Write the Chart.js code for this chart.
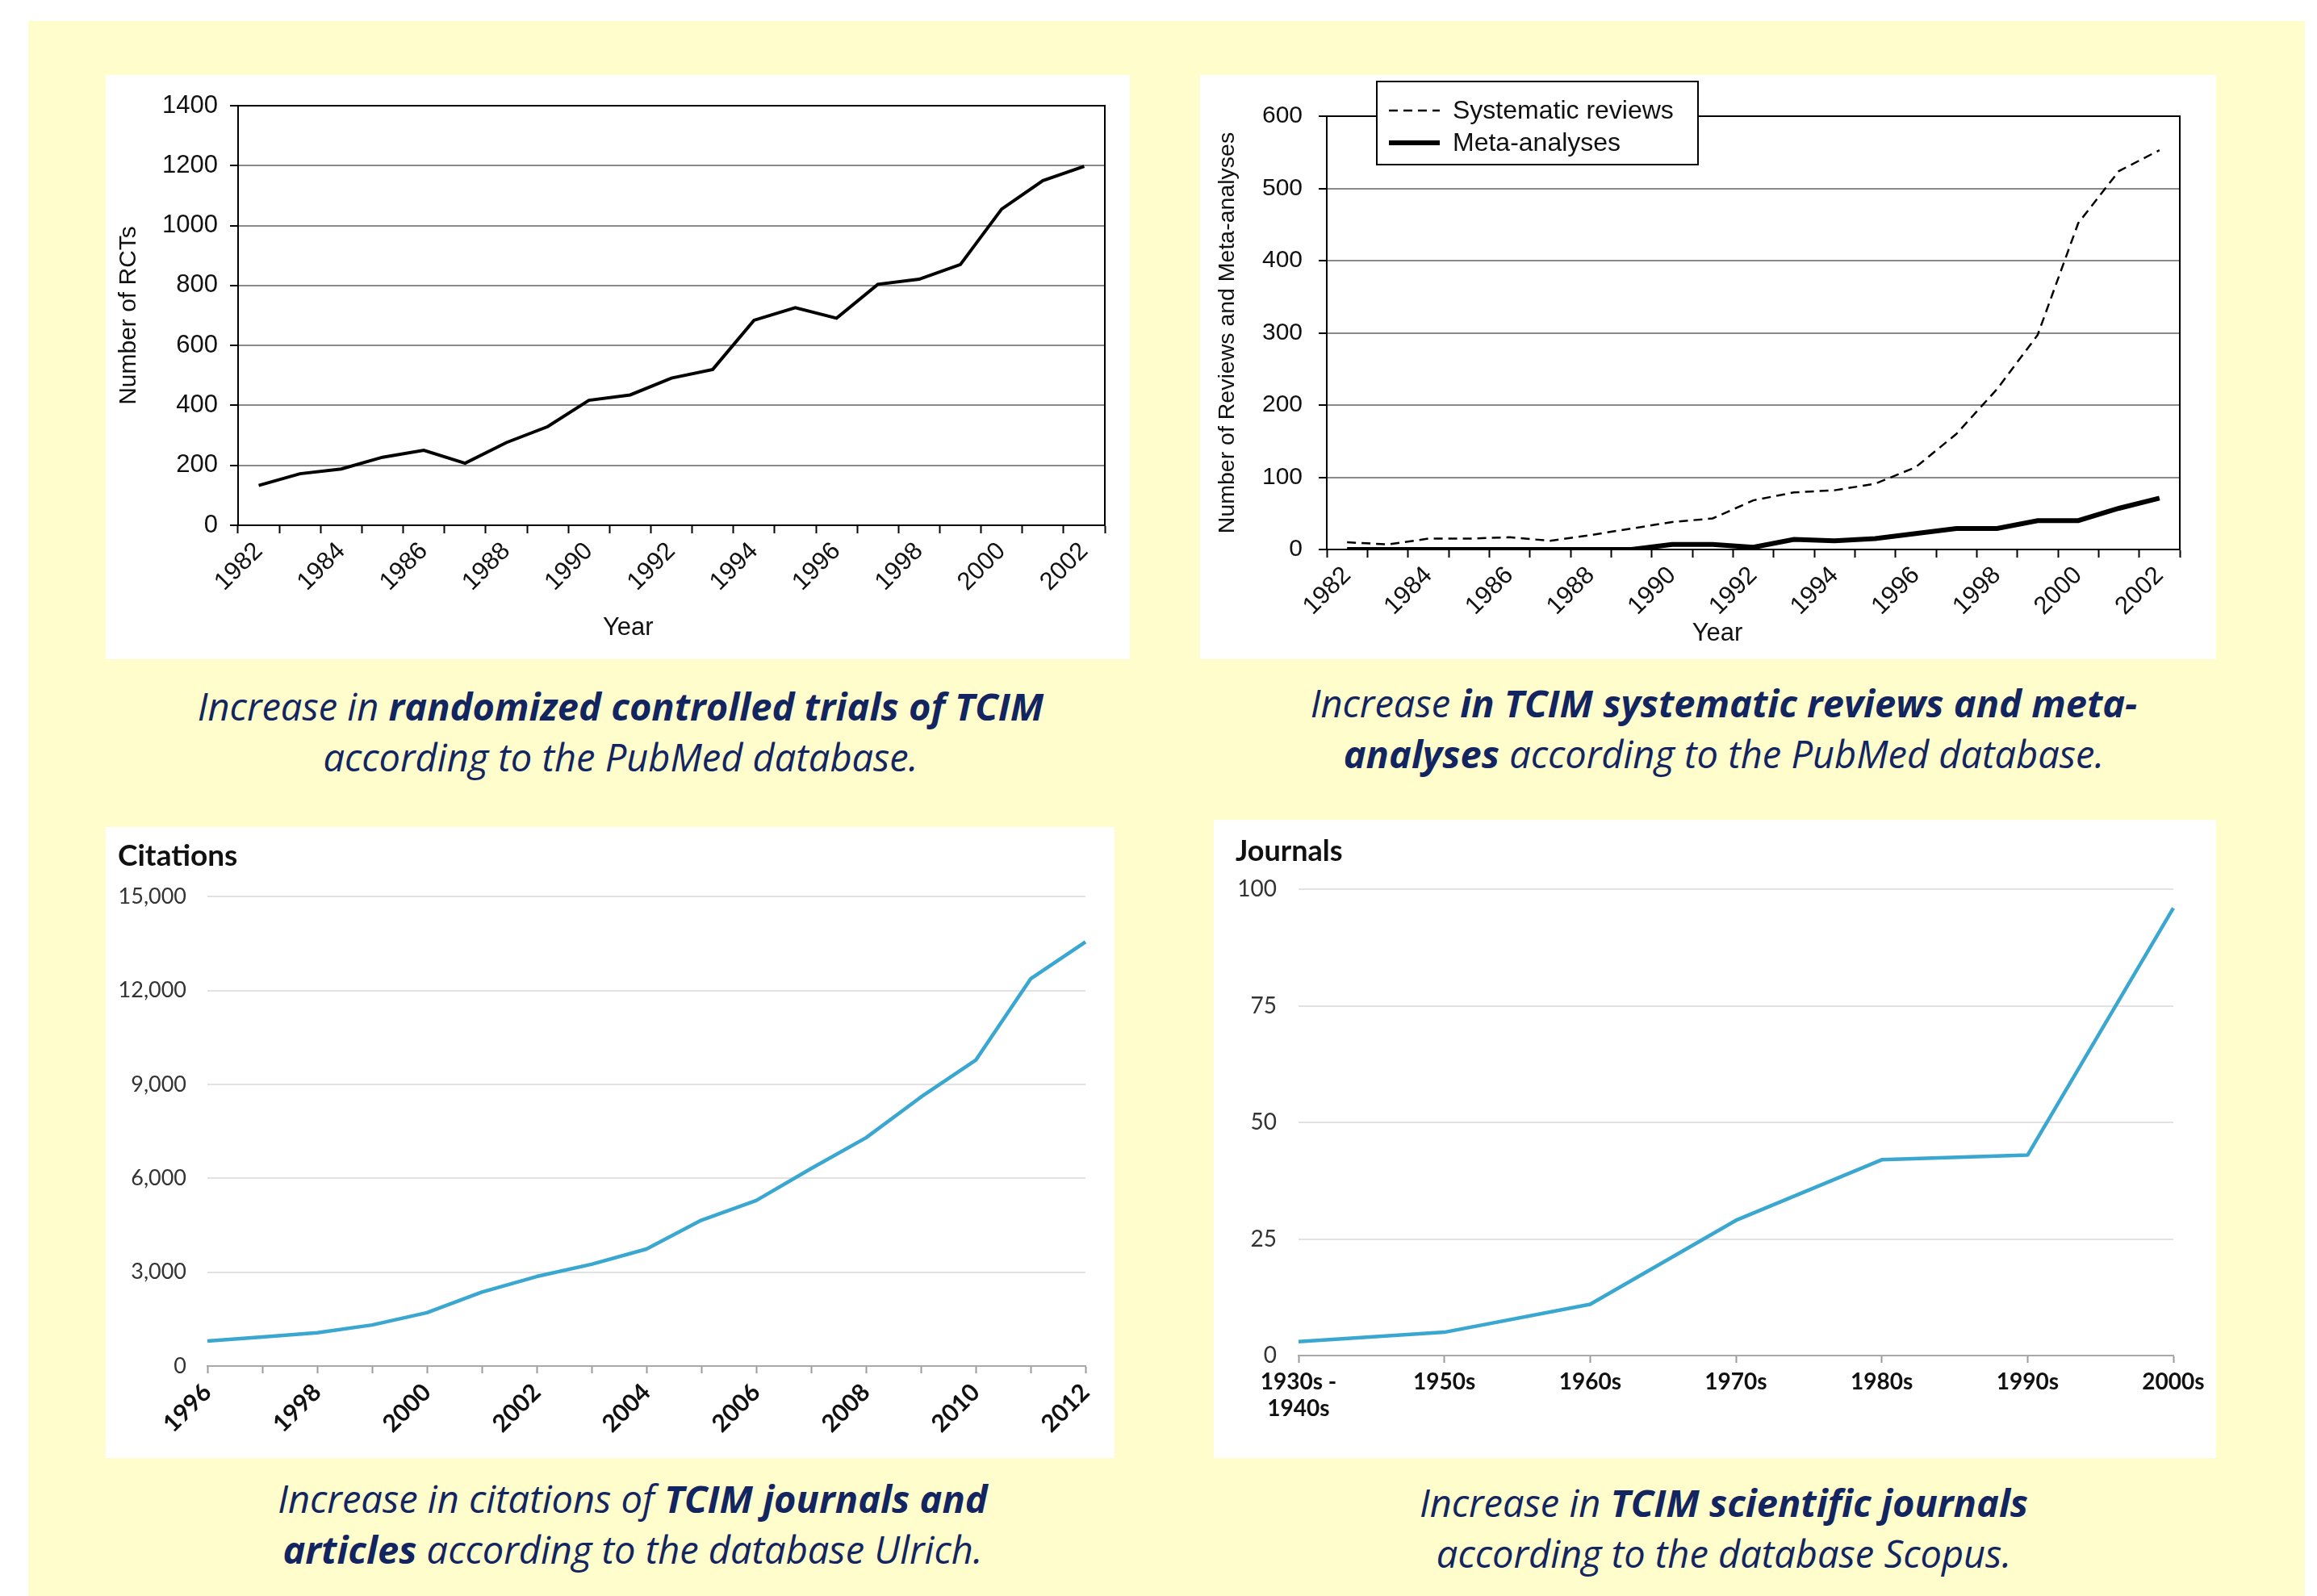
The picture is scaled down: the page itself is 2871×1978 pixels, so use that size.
<!DOCTYPE html>
<html>
<head>
<meta charset="utf-8">
<script src="https://cdn.jsdelivr.net/npm/chart.js@4.4.1/dist/chart.umd.min.js"></script>
<style>
  html, body { margin: 0; padding: 0; background: #fff; }
  body { width: 2871px; height: 1978px; position: relative; overflow: hidden; }
  .bg { position: absolute; left: 35px; top: 26px; width: 2821px; height: 1952px; background: #fffdcc; }
  .panel { position: absolute; background: #fff; }
  .panel canvas { display: block; }
  .caption {
    position: absolute; width: 1400px; text-align: center; white-space: nowrap;
    font-family: "Open Sans", sans-serif; font-style: italic; font-size: 47px;
    line-height: 63px; color: #122560;
  }
  .caption b { font-weight: 700; }
</style>
</head>
<body>
<div class="bg"></div>

<div class="panel" style="left:131px;top:93px;width:1269px;height:724px">
  <canvas id="rctChart" width="1269" height="724"></canvas>
</div>
<div class="panel" style="left:1487px;top:93px;width:1259px;height:724px">
  <canvas id="reviewChart" width="1259" height="724"></canvas>
</div>
<div class="panel" style="left:131px;top:1025px;width:1250px;height:782px">
  <canvas id="citationChart" width="1250" height="782"></canvas>
</div>
<div class="panel" style="left:1504px;top:1016px;width:1242px;height:791px">
  <canvas id="journalChart" width="1242" height="791"></canvas>
</div>

<div class="caption" style="left:69px;top:844px">Increase in <b>randomized controlled trials of TCIM</b><br>according to the PubMed database.</div>
<div class="caption" style="left:1436px;top:840px">Increase <b>in TCIM systematic reviews and meta-</b><br><b>analyses</b> according to the PubMed database.</div>
<div class="caption" style="left:84px;top:1826px">Increase in citations of <b>TCIM journals and</b><br><b>articles</b> according to the database Ulrich.</div>
<div class="caption" style="left:1436px;top:1831px">Increase in <b>TCIM scientific journals</b><br>according to the database Scopus.</div>

<script>
// --- data ---
const rctYears = ['1982','1983','1984','1985','1986','1987','1988','1989','1990','1991','1992',
                  '1993','1994','1995','1996','1997','1998','1999','2000','2001','2002'];
const rctCounts = [133, 172, 188, 227, 250, 207, 276, 329, 417, 435, 491,
                   520, 684, 726, 691, 804, 821, 870, 1055, 1150, 1198];
const rctTicks = [0, 200, 400, 600, 800, 1000, 1200, 1400];

const reviewYears = rctYears;
const systematicReviews = [10, 7, 15, 15, 17, 12, 20, 29, 38, 43, 68,
                           79, 82, 91, 114, 160, 222, 297, 452, 524, 553];
const metaAnalyses = [0, 0, 0, 0, 0, 0, 0, 0, 7, 7, 3,
                      14, 12, 15, 22, 29, 29, 40, 40, 57, 71];
const reviewTicks = [0, 100, 200, 300, 400, 500, 600];

const citationYears = ['1996','1997','1998','1999','2000','2001','2002','2003','2004',
                       '2005','2006','2007','2008','2009','2010','2011','2012'];
const citations = [800, 930, 1063, 1312, 1706, 2362, 2861, 3254, 3740,
                   4659, 5289, 6312, 7296, 8596, 9777, 12375, 13556];
const citationTicks = [0, 3000, 6000, 9000, 12000, 15000];

const decades = [['1930s -', '1940s'], '1950s', '1960s', '1970s', '1980s', '1990s', '2000s'];
const journals = [3, 5, 11, 29, 42, 43, 96];
const journalTicks = [0, 25, 50, 75, 100];

const helv = "'Liberation Sans', Arial, sans-serif";
const gill = "Lato, 'Open Sans', sans-serif";
const blue = '#3aa7d0';

function everyOther(v, i) {
    return i % 2 === 0 ? this.getLabelForValue(v) : '';
}

// top and right sides of the box round the old PubMed plots
const frame = {
    id: 'frame',
    afterDatasetsDraw(chart) {
        const {ctx, chartArea: a} = chart;
        ctx.save();
        ctx.strokeStyle = '#000';
        ctx.lineWidth = 2;
        ctx.beginPath();
        ctx.moveTo(a.left, a.top);
        ctx.lineTo(a.right, a.top);
        ctx.lineTo(a.right, a.bottom);
        ctx.stroke();
        ctx.restore();
    }
};

// "Year" sits a bit left of the axis middle in the originals
const xTitle = {
    id: 'xTitle',
    afterDraw(chart, args, opts) {
        const {ctx, chartArea: a} = chart;
        ctx.save();
        ctx.font = opts.size + 'px ' + helv;
        ctx.fillStyle = '#111';
        ctx.textAlign = 'center';
        ctx.textBaseline = 'middle';
        ctx.fillText(opts.text, a.left + (a.right - a.left) * opts.at, opts.y);
        ctx.restore();
    }
};

// boxed legend in the upper left of the reviews chart
const boxLegend = {
    id: 'boxLegend',
    afterDraw(chart) {
        const ctx = chart.ctx;
        ctx.save();
        ctx.fillStyle = '#fff';
        ctx.fillRect(219, 8, 398, 103);
        ctx.strokeStyle = '#000';
        ctx.lineWidth = 2;
        ctx.strokeRect(219, 8, 398, 103);
        chart.data.datasets.forEach((ds, i) => {
            const y = 44 + i * 40;
            ctx.beginPath();
            ctx.setLineDash(ds.borderDash || []);
            ctx.lineWidth = ds.borderWidth;
            ctx.moveTo(234, y);
            ctx.lineTo(297, y);
            ctx.stroke();
            ctx.setLineDash([]);
            ctx.fillStyle = '#111';
            ctx.font = '32px ' + helv;
            ctx.textBaseline = 'middle';
            ctx.fillText(ds.label, 313, y + 1);
        });
        ctx.restore();
    }
};

new Chart(document.getElementById('rctChart'), {
    type: 'line',
    data: {
        labels: rctYears,
        datasets: [{
            data: rctCounts,
            borderColor: '#000',
            borderWidth: 4,
            pointRadius: 0,
            tension: 0
        }]
    },
    options: {
        responsive: false,
        animation: false,
        layout: { padding: { top: 38, right: 31, left: 0, bottom: 0 } },
        plugins: {
            legend: { display: false },
            tooltip: { enabled: false },
            xTitle: { text: 'Year', size: 31, at: 0.45, y: 685 }
        },
        scales: {
            x: {
                offset: true,
                grid: { offset: true, drawOnChartArea: false, tickLength: 10, tickWidth: 2, tickColor: '#000' },
                border: { color: '#000', width: 2 },
                ticks: { autoSkip: false, minRotation: 45, maxRotation: 45, padding: 4, color: '#111',
                         font: { family: helv, size: 31 }, callback: everyOther },
                afterFit(s) { s.height = 166; }
            },
            y: {
                min: 0, max: 1400,
                afterBuildTicks(s) { s.ticks = rctTicks.map(v => ({ value: v })); },
                grid: { color: '#8a8a8a', lineWidth: 2, tickLength: 10, tickWidth: 2, tickColor: '#000' },
                border: { color: '#000', width: 2 },
                ticks: { padding: 15, color: '#111', font: { family: helv, size: 31 }, callback: v => String(v) },
                title: { display: true, text: 'Number of RCTs', color: '#111', font: { family: helv, size: 30 },
                         padding: { top: 11, bottom: 0 } },
                afterFit(s) { s.width = 164; }
            }
        }
    },
    plugins: [frame, xTitle]
});

new Chart(document.getElementById('reviewChart'), {
    type: 'line',
    data: {
        labels: reviewYears,
        datasets: [{
            label: 'Systematic reviews',
            data: systematicReviews,
            borderColor: '#000',
            borderWidth: 2.5,
            borderDash: [11, 7],
            pointRadius: 0,
            tension: 0
        }, {
            label: 'Meta-analyses',
            data: metaAnalyses,
            borderColor: '#000',
            borderWidth: 6,
            pointRadius: 0,
            tension: 0
        }]
    },
    options: {
        responsive: false,
        animation: false,
        layout: { padding: { top: 51, right: 45, left: 0, bottom: 0 } },
        plugins: {
            legend: { display: false },
            tooltip: { enabled: false },
            xTitle: { text: 'Year', size: 31, at: 0.458, y: 692 }
        },
        scales: {
            x: {
                offset: true,
                grid: { offset: true, drawOnChartArea: false, tickLength: 10, tickWidth: 2, tickColor: '#000' },
                border: { color: '#000', width: 2 },
                ticks: { autoSkip: false, minRotation: 45, maxRotation: 45, padding: 4, color: '#111',
                         font: { family: helv, size: 31 }, callback: everyOther },
                afterFit(s) { s.height = 136; }
            },
            y: {
                min: 0, max: 600,
                afterBuildTicks(s) { s.ticks = reviewTicks.map(v => ({ value: v })); },
                grid: { color: '#8a8a8a', lineWidth: 2, tickLength: 10, tickWidth: 2, tickColor: '#000' },
                border: { color: '#000', width: 2 },
                ticks: { padding: 20, color: '#111', font: { family: helv, size: 30 } },
                title: { display: true, text: 'Number of Reviews and Meta-analyses', color: '#111',
                         font: { family: helv, size: 28.5 }, padding: { top: 17, bottom: 0 } },
                afterFit(s) { s.width = 157; }
            }
        }
    },
    plugins: [frame, boxLegend, xTitle]
});

new Chart(document.getElementById('citationChart'), {
    type: 'line',
    data: {
        labels: citationYears,
        datasets: [{
            data: citations,
            borderColor: blue,
            borderWidth: 4.5,
            pointRadius: 0,
            tension: 0,
            borderJoinStyle: 'round'
        }]
    },
    options: {
        responsive: false,
        animation: false,
        locale: 'en-US',
        layout: { padding: { top: 0, right: 36, left: 15, bottom: 0 } },
        plugins: {
            legend: { display: false },
            tooltip: { enabled: false },
            title: { display: true, text: 'Citations', align: 'start', color: '#111',
                     font: { family: gill, size: 37, weight: 'bold' }, padding: { top: 14, bottom: 28 } }
        },
        scales: {
            x: {
                offset: false,
                grid: { drawOnChartArea: false, tickLength: 9, tickWidth: 2, tickColor: '#9a9a9a' },
                border: { color: '#a8a8a8', width: 2 },
                ticks: { autoSkip: false, minRotation: 45, maxRotation: 45, padding: 6, color: '#111',
                         font: { family: gill, size: 30, weight: 'bold' }, callback: everyOther },
                afterFit(s) { s.height = 114; }
            },
            y: {
                min: 0, max: 15000,
                afterBuildTicks(s) { s.ticks = citationTicks.map(v => ({ value: v })); },
                grid: { color: '#e2e2e2', lineWidth: 2, drawTicks: false },
                border: { display: false },
                ticks: { padding: 26, color: '#333', font: { family: gill, size: 27 },
                         callback: v => v.toLocaleString('en-US') },
                afterFit(s) { s.width = 111; }
            }
        }
    }
});

new Chart(document.getElementById('journalChart'), {
    type: 'line',
    data: {
        labels: decades,
        datasets: [{
            data: journals,
            borderColor: blue,
            borderWidth: 4.5,
            pointRadius: 0,
            tension: 0,
            borderJoinStyle: 'round'
        }]
    },
    options: {
        responsive: false,
        animation: false,
        layout: { padding: { top: 0, right: 53, left: 27, bottom: 0 } },
        plugins: {
            legend: { display: false },
            tooltip: { enabled: false },
            title: { display: true, text: 'Journals', align: 'start', color: '#111',
                     font: { family: gill, size: 36, weight: 'bold' }, padding: { top: 18, bottom: 25 } }
        },
        scales: {
            x: {
                offset: false,
                grid: { drawOnChartArea: false, tickLength: 9, tickWidth: 2, tickColor: '#9a9a9a' },
                border: { color: '#a8a8a8', width: 2 },
                ticks: { autoSkip: false, minRotation: 0, maxRotation: 0, padding: 7, color: '#111',
                         font: { family: gill, size: 28, weight: 'bold' } },
                afterFit(s) { s.height = 127; }
            },
            y: {
                min: 0, max: 100,
                afterBuildTicks(s) { s.ticks = journalTicks.map(v => ({ value: v })); },
                grid: { color: '#e2e2e2', lineWidth: 2, drawTicks: false },
                border: { display: false },
                ticks: { padding: 27, color: '#333', font: { family: gill, size: 28 } },
                afterFit(s) { s.width = 78; }
            }
        }
    }
});
</script>
</body>
</html>
